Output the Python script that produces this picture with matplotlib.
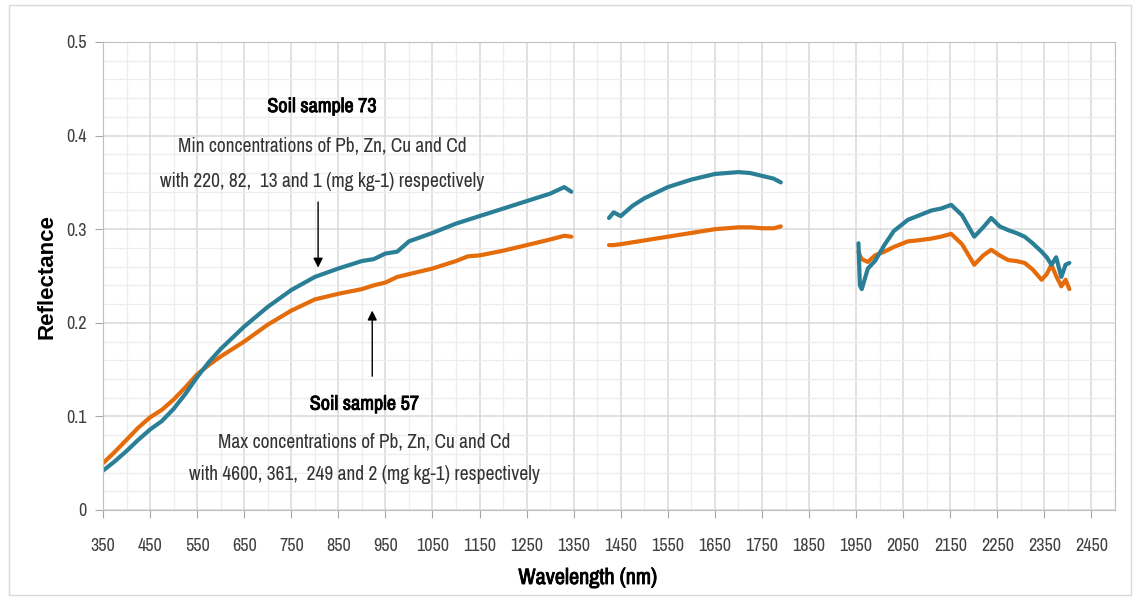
import matplotlib
matplotlib.use("Agg")
import matplotlib.pyplot as plt
import matplotlib.patheffects as pe
from matplotlib import font_manager
from matplotlib.ticker import MultipleLocator, FixedLocator

# soil sample 73 (blue) and 57 (orange), three bands
wl_a = [350, 375, 400, 425, 450, 475, 500, 525, 550, 575, 600, 650, 700, 750, 800, 850,
        900, 925, 950, 975, 1000, 1050, 1100, 1125, 1150, 1200, 1250, 1300, 1330, 1345]
s73_a = [0.042, 0.052, 0.063, 0.075, 0.086, 0.095, 0.108, 0.124, 0.142, 0.158, 0.172, 0.196,
         0.217, 0.235, 0.249, 0.258, 0.266, 0.268, 0.274, 0.276, 0.287, 0.296, 0.306, 0.310,
         0.314, 0.322, 0.330, 0.338, 0.345, 0.340]
s57_a = [0.050, 0.062, 0.075, 0.088, 0.099, 0.107, 0.118, 0.131, 0.145, 0.155, 0.164, 0.180,
         0.198, 0.213, 0.225, 0.231, 0.236, 0.240, 0.243, 0.249, 0.252, 0.258, 0.266, 0.271,
         0.272, 0.277, 0.283, 0.289, 0.293, 0.292]

wl_b = [1425, 1435, 1450, 1475, 1500, 1550, 1600, 1650, 1700, 1725, 1750, 1775, 1790]
s73_b = [0.312, 0.318, 0.314, 0.325, 0.333, 0.345, 0.353, 0.359, 0.361, 0.360, 0.357, 0.354, 0.350]
s57_b = [0.283, 0.283, 0.284, 0.286, 0.288, 0.292, 0.296, 0.300, 0.302, 0.302, 0.301, 0.301, 0.303]

wl_c = [1955, 1958, 1962, 1975, 1990, 2010, 2030, 2060, 2080, 2110, 2130, 2152, 2175,
        2201, 2220, 2237, 2255, 2273, 2290, 2308, 2325, 2344, 2355, 2365, 2375, 2386, 2395, 2403]
s73_c = [0.285, 0.240, 0.236, 0.258, 0.266, 0.283, 0.298, 0.310, 0.314, 0.320, 0.322, 0.326, 0.315,
         0.292, 0.302, 0.312, 0.303, 0.299, 0.296, 0.292, 0.285, 0.276, 0.270, 0.262, 0.270, 0.249,
         0.262, 0.264]
s57_c = [0.276, 0.272, 0.268, 0.265, 0.272, 0.276, 0.281, 0.287, 0.288, 0.290, 0.292, 0.295, 0.284,
         0.262, 0.272, 0.278, 0.272, 0.267, 0.266, 0.264, 0.257, 0.246, 0.252, 0.262, 0.250, 0.239,
         0.246, 0.236]

x_ticks = list(range(350, 2451, 100))
y_ticks = [0, 0.1, 0.2, 0.3, 0.4, 0.5]

blue = "#2a7f97"
orange = "#e46c0a"

# the original uses a narrow Calibri-like face; take a narrow one if there is one
fonts = font_manager.fontManager.ttflist
names = sorted({f.name for f in fonts})
narrow_names = [n for n in names if "Narrow" in n or "Condensed" in n]
if "Liberation Sans Narrow" in names:
    nfont = dict(family=["Liberation Sans Narrow", "DejaVu Sans"])
    k = 1.0
elif narrow_names:
    nfont = dict(family=[narrow_names[0], "DejaVu Sans"])
    k = 1.0
else:
    nfont = dict(family=["DejaVu Sans"])
    k = 0.8
fake_bold = [pe.withStroke(linewidth=0.6, foreground="black")]

fig = plt.figure(figsize=(11.42, 6.03), dpi=100)
ax = fig.add_axes([103 / 1142, 1 - 510 / 603, (1115 - 103) / 1142, (510 - 42) / 603])

for wl, a, b in [(wl_a, s73_a, s57_a), (wl_b, s73_b, s57_b), (wl_c, s73_c, s57_c)]:
    ax.plot(wl, b, color=orange, lw=3.0, solid_capstyle="round")
    ax.plot(wl, a, color=blue, lw=3.0, solid_capstyle="round")

ax.set_xlim(350, 2500)
ax.set_ylim(0, 0.5)
ax.xaxis.set_major_locator(FixedLocator(x_ticks))
ax.xaxis.set_minor_locator(MultipleLocator(50))
ax.yaxis.set_major_locator(FixedLocator(y_ticks))
ax.yaxis.set_minor_locator(MultipleLocator(0.02))
ax.set_yticklabels(["0", "0.1", "0.2", "0.3", "0.4", "0.5"], fontsize=13 * k, color="#404040", **nfont)
ax.set_xticklabels([str(t) for t in x_ticks], fontsize=13 * k, color="#404040", **nfont)
ax.grid(which="major", color="#d9d9d9", lw=1.1)
ax.grid(which="minor", color="#ededed", lw=0.9)
ax.set_axisbelow(True)
ax.tick_params(which="major", length=6, color="#a6a6a6", pad=14)
ax.tick_params(axis="y", pad=6)
ax.tick_params(which="minor", length=0)
for s in ax.spines.values():
    s.set_color("#bfbfbf")

xl = ax.set_xlabel("Wavelength (nm)", fontsize=16 * k, color="black", va="center", **nfont)
xl.set_path_effects(fake_bold)
ax.xaxis.set_label_coords((588 - 103) / 1012, -(578 - 510) / 468)
ax.set_ylabel("Reflectance", family="Liberation Sans", fontsize=16, fontweight="bold")
ax.yaxis.set_label_coords(-(103 - 57) / 1012, (510 - 277) / 468)

# annotations
t = ax.text(815, 0.431, "Soil sample 73", fontsize=14.5 * k,
            ha="center", va="center", **nfont)
t.set_path_effects(fake_bold)
ax.text(815, 0.389, "Min concentrations of Pb, Zn, Cu and Cd", fontsize=14 * k,
        ha="center", va="center", color="#333333", **nfont)
ax.text(815, 0.351, "with 220, 82,  13 and 1 (mg kg-1) respectively", fontsize=14 * k,
        ha="center", va="center", color="#333333", **nfont)
ax.annotate("", xy=(807, 0.256), xytext=(807, 0.332),
            arrowprops=dict(arrowstyle="-|>", color="black", lw=1, mutation_scale=14))

t = ax.text(905, 0.113, "Soil sample 57", fontsize=14.5 * k,
            ha="center", va="center", **nfont)
t.set_path_effects(fake_bold)
ax.text(905, 0.073, "Max concentrations of Pb, Zn, Cu and Cd", fontsize=14 * k,
        ha="center", va="center", color="#333333", **nfont)
ax.text(905, 0.038, "with 4600, 361,  249 and 2 (mg kg-1) respectively", fontsize=14 * k,
        ha="center", va="center", color="#333333", **nfont)
ax.annotate("", xy=(922, 0.216), xytext=(922, 0.140),
            arrowprops=dict(arrowstyle="-|>", color="black", lw=1, mutation_scale=14))

# light frame around the chart area
fig.patches.append(plt.Rectangle((9 / 1142, 8 / 603), 1122 / 1142, 590 / 603, transform=fig.transFigure,
                                 fill=False, edgecolor="#d9d9d9", lw=1))

fig.savefig("out.png", dpi=100)
